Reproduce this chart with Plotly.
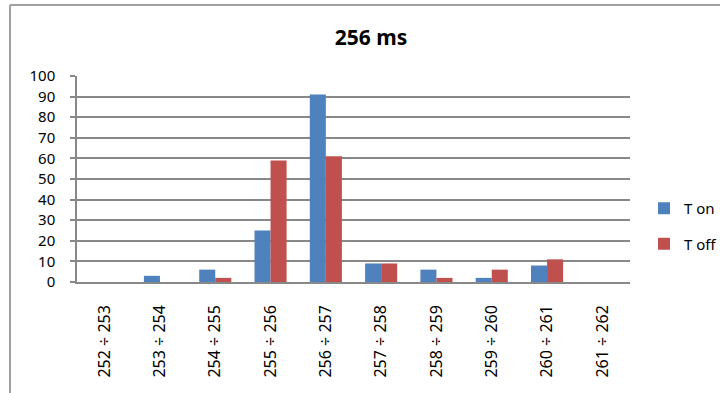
import plotly.graph_objects as go

# Histogram bins (ms) and counts for the two series
bins = ["252 ÷ 253", "253 ÷ 254", "254 ÷ 255", "255 ÷ 256", "256 ÷ 257",
        "257 ÷ 258", "258 ÷ 259", "259 ÷ 260", "260 ÷ 261", "261 ÷ 262"]
t_on = [0, 3, 6, 25, 91, 9, 6, 2, 8, 0]
t_off = [0, 0, 2, 59, 61, 9, 2, 6, 11, 0]
y_ticks = list(range(0, 101, 10))

W, H = 720, 393
L, R, T, B = 77, 90, 76, 111
PW, PH = W - L - R, H - T - B


def px_x(px):
    return (px - L) / PW


def px_y(py):
    return (H - B - py) / PH


FONT = "Noto Sans"
GRID = "#888888"

fig = go.Figure()
fig.add_trace(go.Bar(x=bins, y=t_on, name="T on", marker_color="#4F81BD",
                     marker_line_width=0, legendgroup="on"))
fig.add_trace(go.Bar(x=bins, y=t_off, name="T off", marker_color="#C0504D",
                     marker_line_width=0, legendgroup="off"))

fig.update_layout(
    width=W, height=H,
    margin=dict(l=L, r=R, t=T, b=B, autoexpand=False),
    paper_bgcolor="white", plot_bgcolor="white",
    barmode="group", bargap=0.42, bargroupgap=0,
    font=dict(family=FONT, color="black", size=15),
    title=dict(text="<b>256 ms</b>", x=px_x(371), xref="paper", xanchor="center",
               y=1 - 38 / H, yanchor="middle",
               font=dict(family=FONT, size=21, color="black")),
    legend=dict(x=px_x(644), y=px_y(192), xanchor="left", yanchor="top",
                font=dict(family=FONT, size=15), itemwidth=30,
                traceorder="grouped", tracegroupgap=13,
                bgcolor="rgba(0,0,0,0)"),
    showlegend=True,
)
fig.update_xaxes(
    type="category", tickangle=-90, showgrid=False,
    showline=True, linecolor=GRID, linewidth=1.5,
    ticks="", tickfont=dict(family=FONT, size=16), ticklabelstandoff=15,
)
fig.update_yaxes(
    range=[0, 100], tickvals=y_ticks, showgrid=True, gridcolor=GRID, gridwidth=1.5,
    showline=True, linecolor=GRID, linewidth=1.5, zeroline=False,
    ticks="outside", ticklen=5, tickcolor=GRID, tickwidth=1.5,
    tickfont=dict(family=FONT, size=15), ticklabelstandoff=12,
)

# Outer chart frame (top and left edges)
fig.add_shape(type="line", xref="paper", yref="paper",
              x0=px_x(10), x1=px_x(W), y0=px_y(5), y1=px_y(5),
              line=dict(color="#a0a0a0", width=2))
fig.add_shape(type="line", xref="paper", yref="paper",
              x0=px_x(10), x1=px_x(10), y0=px_y(5), y1=px_y(H),
              line=dict(color="#a0a0a0", width=2))

fig.write_html("out.html")
